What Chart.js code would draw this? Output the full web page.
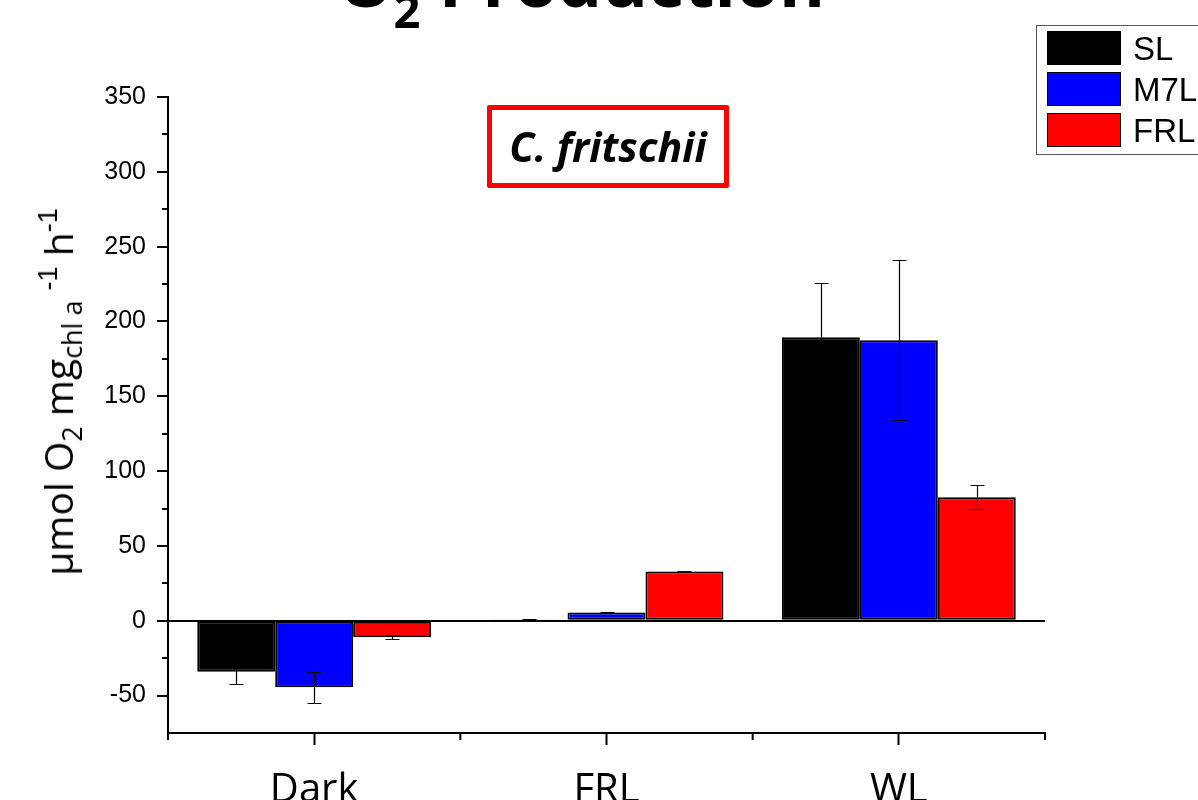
<!DOCTYPE html>
<html>
<head>
<meta charset="utf-8">
<script src="https://cdn.jsdelivr.net/npm/chart.js@4.4.1/dist/chart.umd.min.js"></script>
<style>
  html, body { margin: 0; padding: 0; background: #fff; overflow: hidden; }
  #wrap { position: relative; width: 1198px; height: 800px; overflow: hidden; }
  #chart { position: absolute; left: 0; top: 0; }
  .title {
    position: absolute; left: 0; width: 1163px; top: -55px; text-align: center;
    font-family: "Open Sans", sans-serif; font-weight: 700; font-size: 70px; line-height: 70px;
    color: #000; white-space: nowrap;
  }
  .title sub { font-size: 47px; vertical-align: -21px; line-height: 0; }
  .species {
    position: absolute; left: 487px; top: 105px; width: 232px; height: 73px;
    border: 5px solid #f00; border-radius: 2px; text-align: center;
    font-family: "Open Sans", sans-serif; font-weight: 700; font-style: italic;
    font-size: 41px; line-height: 73px; color: #000;
  }
  .ylabel {
    position: absolute; left: 58px; top: 392px; transform: translate(-50%, -50%) rotate(-90deg);
    font-family: "Open Sans", sans-serif; font-size: 39px; line-height: 44px; color: #000; white-space: nowrap;
  }
  .ylabel sub { font-size: 27px; vertical-align: -9px; line-height: 0; }
  .ylabel sup { font-family: "Liberation Sans", Arial, sans-serif; font-size: 27px; vertical-align: 16px; line-height: 0; }
  .legend {
    position: absolute; left: 1036px; top: 25px; width: 180px; height: 130px;
    border: 1px solid #555; box-sizing: border-box;
  }
  .legend .item { position: absolute; left: 10px; height: 35px; }
  .legend .sw { position: absolute; left: 0; top: 0; width: 72px; height: 32px; border: 1.5px solid #000; }
  .legend .lab {
    position: absolute; left: 86px; top: 0; line-height: 35px;
    font-family: "Liberation Sans", Arial, sans-serif; font-size: 33px; color: #000; white-space: nowrap;
  }
</style>
</head>
<body>
<div id="wrap">
  <canvas id="chart" width="1198" height="800"></canvas>
  <div class="title">O<sub>2</sub> Production</div>
  <div class="species">C. fritschii</div>
  <div class="ylabel">µmol O<sub>2</sub> mg<sub>chl a</sub> <sup>-1</sup> h<sup>-1</sup></div>
  <div class="legend" id="legend"></div>
</div>
<script>
// Light conditions on the x axis
const categories = ['Dark', 'FRL', 'WL'];
// Growth-light series
const seriesNames = ['SL', 'M7L', 'FRL'];
const slValues  = [-34, 0.8, 189.5];
const m7lValues = [-44.5, 5.5, 187.5];
const frlValues = [-11, 33, 82.5];
// Standard deviations
const slErrors  = [8.5, 0.3, 36];
const m7lErrors = [10.3, 0.5, 53.5];
const frlErrors = [1.2, 0.5, 8];
// Y axis ticks
const yMin = -75;
const yMax = 350;
const yMajorStep = 50;
const yMinorStep = 25;

const colors = ['#000000', '#0000ff', '#ff0000'];
const errorColors = ['#000000', '#000000', '#111111'];
const valueSets = [slValues, m7lValues, frlValues];
const errorSets = [slErrors, m7lErrors, frlErrors];

// Legend built from the series definitions
const legendEl = document.getElementById('legend');
seriesNames.forEach((name, i) => {
  const item = document.createElement('div');
  item.className = 'item';
  item.style.top = (5 + i * 41) + 'px';
  item.innerHTML = '<div class="sw" style="background:' + colors[i] + '"></div><div class="lab">' + name + '</div>';
  legendEl.appendChild(item);
});

// Error bars drawn through the chart's own scales
const errorBars = {
  id: 'errorBars',
  afterDatasetsDraw(chart) {
    const ctx = chart.ctx;
    const y = chart.scales.y;
    chart.data.datasets.forEach((ds, di) => {
      const meta = chart.getDatasetMeta(di);
      meta.data.forEach((bar, i) => {
        const v = ds.data[i];
        const e = ds.errors[i];
        const yTop = Math.round(y.getPixelForValue(v + e)) + 0.5;
        const yBot = Math.round(y.getPixelForValue(v - e)) + 0.5;
        const bx = Math.round(bar.x) + 0.5;
        const cap = 7;
        ctx.save();
        ctx.strokeStyle = ds.errorColor;
        ctx.lineWidth = 1.2;
        ctx.beginPath();
        ctx.moveTo(bx, yTop); ctx.lineTo(bx, yBot);
        ctx.moveTo(bx - cap, yTop); ctx.lineTo(bx + cap, yTop);
        ctx.moveTo(bx - cap, yBot); ctx.lineTo(bx + cap, yBot);
        ctx.stroke();
        ctx.restore();
      });
    });
  }
};

// Minor ticks on both axes
const minorTicks = {
  id: 'minorTicks',
  afterDraw(chart) {
    const ctx = chart.ctx;
    const y = chart.scales.y;
    const x = chart.scales.x;
    const area = chart.chartArea;
    ctx.save();
    ctx.strokeStyle = '#000';
    ctx.lineWidth = 2;
    ctx.beginPath();
    for (let v = yMin; v <= yMax; v += yMinorStep) {
      if (v % yMajorStep === 0 || v === yMin) continue;
      const py = Math.round(y.getPixelForValue(v));
      ctx.moveTo(area.left - 6, py); ctx.lineTo(area.left, py);
    }
    const bounds = [area.left];
    for (let i = 0; i < categories.length - 1; i++) {
      bounds.push((x.getPixelForValue(i) + x.getPixelForValue(i + 1)) / 2);
    }
    bounds.push(area.right);
    bounds.forEach(bx => {
      ctx.moveTo(bx, area.bottom); ctx.lineTo(bx, area.bottom + 7);
    });
    ctx.stroke();
    ctx.restore();
  }
};

new Chart(document.getElementById('chart'), {
  type: 'bar',
  data: {
    labels: categories,
    datasets: seriesNames.map((name, i) => ({
      label: name,
      data: valueSets[i],
      errors: errorSets[i],
      errorColor: errorColors[i],
      backgroundColor: colors[i],
      borderColor: '#000',
      borderWidth: 2,
      borderSkipped: false,
      categoryPercentage: 0.8,
      barPercentage: 1.0
    }))
  },
  options: {
    responsive: false,
    animation: false,
    layout: { padding: { left: 0, right: 153, top: 97, bottom: 0 } },
    plugins: { legend: { display: false }, title: { display: false }, tooltip: { enabled: false } },
    scales: {
      x: {
        offset: true,
        afterFit(scale) { scale.height = 67; },
        grid: { offset: false, drawOnChartArea: false, drawTicks: true, tickLength: 12, tickColor: '#000', tickWidth: 2 },
        border: { display: true, color: '#000', width: 2 },
        ticks: {
          color: '#000', padding: 22,
          font: { family: '"Open Sans", sans-serif', size: 40 }
        }
      },
      y: {
        min: yMin, max: yMax,
        afterFit(scale) { scale.width = 168; },
        grid: {
          drawOnChartArea: true,
          color: c => (c.tick && c.tick.value === 0 ? '#000' : 'rgba(0,0,0,0)'),
          lineWidth: c => (c.tick && c.tick.value === 0 ? 2 : 0),
          tickLength: 11,
          tickColor: c => (c.tick && c.tick.value % yMajorStep === 0 ? '#000' : 'rgba(0,0,0,0)'),
          tickWidth: 2
        },
        border: { display: true, color: '#000', width: 2 },
        ticks: {
          stepSize: yMinorStep,
          autoSkip: false,
          padding: 11,
          color: '#000',
          font: { family: '"Liberation Sans", Arial, sans-serif', size: 25 },
          callback: v => (v % yMajorStep === 0 ? String(v) : '')
        }
      }
    }
  },
  plugins: [errorBars, minorTicks]
});
</script>
</body>
</html>
